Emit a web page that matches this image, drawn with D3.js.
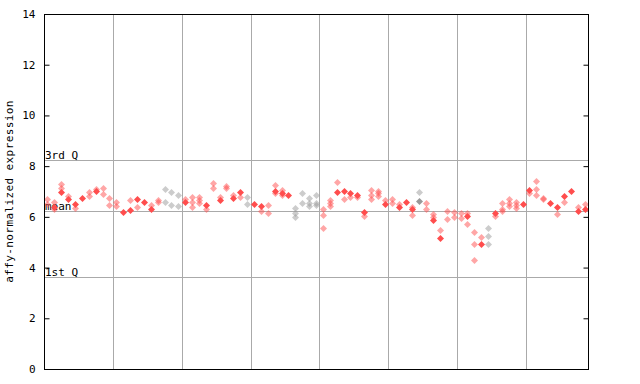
<!DOCTYPE html>
<html><head><meta charset="utf-8">
<script src="https://cdn.jsdelivr.net/npm/d3@7"></script>
<style>body{margin:0;background:#fff}svg{display:block}text{font-family:"DejaVu Sans Mono",monospace;}</style>
</head><body><div id="chart"></div>
<script>
// Data
const columnCount = 79;
const groupSize = 10;
const filledValues = [null,6.4,7.0,6.69,6.52,6.73,null,7.02,null,null,
  null,6.2,6.27,6.72,6.59,6.3,null,null,null,null,
  6.6,null,null,6.48,null,6.68,null,6.75,7.0,null,
  6.52,6.44,null,7.02,6.95,6.87,null,null,null,null,
  null,null,6.99,7.03,6.93,6.88,6.2,null,null,6.49,
  null,6.4,6.59,6.3,6.64,null,5.88,5.18,null,null,
  null,6.05,null,4.94,null,6.14,null,null,null,6.51,
  7.06,null,null,6.56,6.4,6.83,7.03,6.24,6.31];
const hollowValues = [[6.69,6.5],[6.6,6.3],[7.3,7.15],[6.82],[6.33],[],[6.97,6.82],[7.08],[7.12,6.89],[6.73,6.45],
  [6.57,6.44],[],[6.66],[6.39],[],[6.47],[6.66,6.57],[7.08,6.57],[6.97,6.47],[6.86,6.43],
  [6.69],[6.77,6.57,6.38],[6.77,6.66,6.53],[6.3],[7.32,7.12],[6.77],[7.21,7.12],[6.86],[6.77],[6.8,6.5],
  [],[6.24],[6.45,6.14],[7.25,6.93],[7.06,6.86],[],[6.33,6.14,6.0],[6.93,6.53],[6.73,6.56,6.43],[6.86,6.56,6.47],
  [6.3,6.07,5.55],[6.66,6.56,6.43],[7.36],[6.69],[6.8],[6.8],[6.03],[7.06,6.86,6.69],[7.03,6.93,6.82],[6.66],
  [6.69,6.56],[6.5],[],[6.38,6.07],[6.97],[6.53,6.3],[6.11,6.0],[5.48],[6.24,5.9],[6.2,5.98],
  [6.16,5.94],[6.14,5.72],[5.4,4.93,4.3],[5.19],[5.58,5.24,4.93],[6.03],[6.53,6.31,6.24],[6.69,6.53,6.43],[6.57,6.47,6.33],[],
  [6.93],[7.41,7.08,6.86],[6.75,6.69],[],[6.11],[6.6],[],[6.38],[6.5]];
const controlColumns = [17,18,19,29,36,37,38,39,54,64];
const refLines = [{label:"3rd Q", value:8.24},{label:"mean", value:6.23},{label:"1st Q", value:3.62}];
const yTicks = [0,2,4,6,8,10,12,14];
const yLabel = "affy-normalized expression";

const W=640,H=384, m={l:44,r:52,t:14,b:15};
const svg=d3.select("#chart").append("svg").attr("width",W).attr("height",H);
const defs=svg.append("defs");
function pat(id,col){
  const p=defs.append("pattern").attr("id",id).attr("width",2).attr("height",2).attr("patternUnits","userSpaceOnUse");
  p.append("rect").attr("x",0).attr("y",0).attr("width",1).attr("height",1).attr("fill",col);
  p.append("rect").attr("x",1).attr("y",1).attr("width",1).attr("height",1).attr("fill",col);
}
const RED="#ff4d4d", GRAY="#999999";
pat("pr",RED); pat("pg",GRAY);

const x=d3.scaleBand().domain(d3.range(columnCount)).range([m.l, W-m.r]);
const y=d3.scaleLinear().domain([0,14]).range([H-m.b,m.t]);
const groupBounds=d3.range(groupSize, columnCount, groupSize);

// vertical grid
const g=svg.append("g");
g.selectAll(".vg").data(groupBounds).join("line")
  .attr("x1",d=>Math.round(x(d))+0.5).attr("x2",d=>Math.round(x(d))+0.5)
  .attr("y1",y(14)).attr("y2",y(0)).attr("stroke","#aaaaaa");
// ref lines
g.selectAll(".rl").data(refLines).join("line")
  .attr("x1",m.l).attr("x2",W-m.r).attr("y1",d=>Math.round(y(d.value))+0.5).attr("y2",d=>Math.round(y(d.value))+0.5)
  .attr("stroke","#aaaaaa");
g.selectAll(".rt").data(refLines).join("text")
  .attr("x",m.l+1).attr("y",d=>Math.round(y(d.value))-1).attr("font-size",11).attr("fill","#000").text(d=>d.label);

// points
const diamond="M0,-3.5L3.5,0L0,3.5L-3.5,0Z";
const pts=[];
hollowValues.forEach((arr,i)=>arr.forEach(v=>pts.push({i,v,f:false})));
filledValues.forEach((v,i)=>{if(v!=null)pts.push({i,v,f:true});});
g.selectAll(".pt").data(pts).join("path")
  .attr("d",diamond)
  .attr("transform",d=>`translate(${Math.round(x(d.i)+x.bandwidth()/2)+0.5},${Math.round(y(d.v))+0.5})`)
  .attr("fill",d=>{const c=controlColumns.includes(d.i); return d.f?(c?GRAY:RED):(c?"url(#pg)":"url(#pr)");})
  .attr("stroke","none");

// frame
svg.append("rect").attr("x",m.l+0.5).attr("y",m.t+0.5).attr("width",W-m.l-m.r).attr("height",H-m.t-m.b)
  .attr("fill","none").attr("stroke","#000");
// axes
const ay=svg.append("g").attr("transform",`translate(${m.l+0.5},0)`)
  .call(d3.axisLeft(y).tickValues(yTicks).tickSize(-5).tickPadding(9).tickFormat(d3.format("d")));
ay.select(".domain").remove();
ay.selectAll("text").attr("font-size",11).attr("font-family","DejaVu Sans Mono,monospace");
const ay2=svg.append("g").attr("transform",`translate(${W-m.r+0.5},0)`)
  .call(d3.axisRight(y).tickValues(yTicks).tickSize(-5).tickFormat(""));
ay2.select(".domain").remove();

svg.append("text").attr("transform",`translate(13,${(m.t+H-m.b)/2}) rotate(-90)`)
  .attr("text-anchor","middle").attr("font-size",11).attr("letter-spacing",0.4).text(yLabel);
</script></body></html>
